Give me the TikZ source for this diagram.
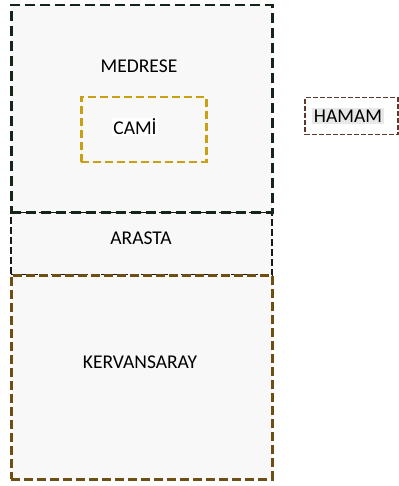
\documentclass[tikz,border=0pt]{standalone}
\usepackage{fontspec}
\setmainfont{Carlito}
\definecolor{medc}{HTML}{14261A}
\definecolor{kerc}{HTML}{6E4E12}
\definecolor{camc}{HTML}{C9A013}
\definecolor{hamc}{HTML}{5A3A2C}
\definecolor{boxfill}{HTML}{F8F8F8}
\begin{document}
\begin{tikzpicture}[x=1pt,y=-1pt,
  zone/.style={rectangle, fill=boxfill, inner sep=0pt, anchor=north west},
  lbl/.style={font=\fontsize{19.5}{22}\selectfont, inner sep=1pt, text=black}]
\useasboundingbox[fill=white] (0,0) rectangle (398,486);
\node[zone, draw=black!90, line width=1.8pt, dash pattern=on 7pt off 3pt,
  minimum width=261pt, minimum height=63pt] (arasta) at (10,211) {};
\node[zone, draw=medc, line width=2.5pt, dash pattern=on 10pt off 5pt,
  minimum width=261pt, minimum height=207pt] (medrese) at (10,4) {};
\node[zone, draw=kerc, line width=2.5pt, dash pattern=on 9pt off 4pt,
  minimum width=261pt, minimum height=204pt] (kervan) at (10,274) {};
\node[zone, draw=camc, line width=2.5pt, dash pattern=on 8pt off 4pt,
  minimum width=125pt, minimum height=65pt] (cami) at (80,96) {};
\node[zone, draw=hamc, fill=white, line width=1.5pt, dash pattern=on 5pt off 2pt,
  minimum width=93pt, minimum height=37pt] (hamam) at (304,97) {};
\node[lbl] (lmed) at (139,66) {MEDRESE};
\node[lbl, fill=white] (lcami) at (135,127) {CAMİ};
\node[lbl] (lara) at (141,238) {ARASTA};
\node[lbl] (lker) at (140,362) {KERVANSARAY};
\node[lbl, fill=black!9, inner sep=2pt] (lham) at (348,116) {HAMAM};
\end{tikzpicture}
\end{document}
